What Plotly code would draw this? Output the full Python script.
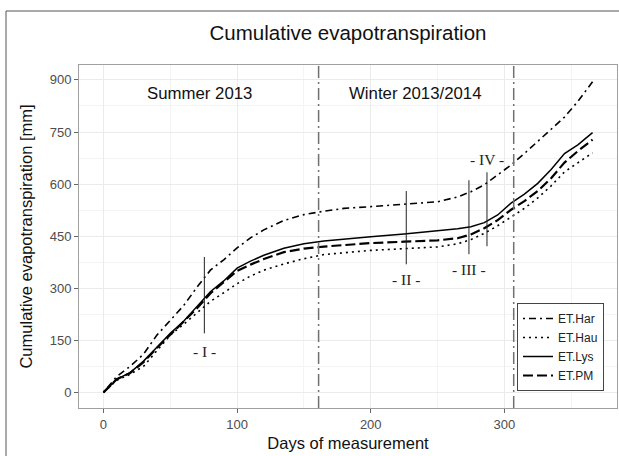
import plotly.graph_objects as go

# ---------------- data ----------------
days = [0, 5, 10, 20, 30, 40, 50, 60, 70, 80, 90, 100, 110, 120, 135, 150, 165,
        180, 200, 225, 250, 265, 275, 285, 295, 305, 315, 325, 335, 345, 355, 366]

et_har = [0, 22, 46, 75, 110, 165, 207, 250, 303, 352, 382, 416, 445, 468, 495, 512, 522,
          530, 535, 542, 549, 563, 578, 598, 627, 655, 688, 722, 758, 793, 838, 895]
et_hau = [0, 18, 35, 52, 75, 120, 165, 196, 228, 262, 287, 313, 335, 352, 370, 385, 397,
          403, 409, 414, 419, 428, 440, 458, 480, 505, 530, 560, 595, 635, 662, 690]
et_lys = [0, 20, 38, 57, 90, 130, 170, 205, 248, 290, 321, 358, 378, 395, 415, 428, 436,
          442, 448, 456, 465, 471, 477, 489, 511, 545, 571, 602, 642, 688, 713, 748]
et_pm = [0, 20, 38, 56, 87, 128, 166, 201, 242, 285, 317, 350, 368, 384, 404, 414, 420,
         425, 430, 434, 438, 444, 455, 473, 496, 526, 551, 580, 617, 662, 695, 728]

series_names = ["ET.Har", "ET.Hau", "ET.Lys", "ET.PM"]

season_bounds = [161, 307]
season_labels = ["Summer 2013", "Winter 2013/2014"]
season_label_days = [72, 233]
season_label_value = 862

marker_days = [75.5, 226.6, 273.5, 287]
marker_low = [170, 369, 398, 421]
marker_high = [390, 580, 611, 634]

phase_labels = ["- I -", "- II -", "- III -", "- IV -"]
phase_label_days = [75.5, 226.6, 273.5, 287]
phase_label_values = [118, 326, 355, 672]

x_ticks = [0, 100, 200, 300]
y_ticks = [0, 150, 300, 450, 600, 750, 900]

# ---------------- figure ----------------
fig = go.Figure()

styles = {
    "ET.Har": dict(width=1.6, dash="2px,4px,7px,4px"),
    "ET.Hau": dict(width=1.6, dash="2px,4px"),
    "ET.Lys": dict(width=1.5, dash="solid"),
    "ET.PM": dict(width=2.2, dash="10px,4px"),
}
for name, vals in zip(series_names, [et_har, et_hau, et_lys, et_pm]):
    fig.add_trace(go.Scatter(x=days, y=vals, mode="lines", name=name,
                             line=dict(color="black", **styles[name])))

# season boundary lines
for d in season_bounds:
    fig.add_shape(type="line", xref="x", yref="paper", x0=d, x1=d, y0=0, y1=1,
                  line=dict(color="#707070", width=1.5, dash="12px,4px,2px,4px"))

# phase marker lines
mx, my = [], []
for d, lo, hi in zip(marker_days, marker_low, marker_high):
    mx += [d, d, None]
    my += [lo, hi, None]
fig.add_trace(go.Scatter(x=mx, y=my, mode="lines", showlegend=False,
                         line=dict(color="#222222", width=1), hoverinfo="skip"))

for t, d in zip(season_labels, season_label_days):
    fig.add_annotation(x=d, y=season_label_value, text=t, showarrow=False,
                       font=dict(family="Liberation Sans, Arial", size=16.8, color="#111111"))

for t, d, v in zip(phase_labels, phase_label_days, phase_label_values):
    fig.add_annotation(x=d, y=v, text=t, showarrow=False,
                       font=dict(family="Liberation Serif, Times New Roman", size=15.5, color="#222222"))

# outer frame
fig.add_shape(type="rect", xref="paper", yref="paper",
              x0=(6 - 79) / 538, x1=1.2, y0=-0.3, y1=(408 - 11) / 343,
              line=dict(color="#555555", width=1), layer="below")

axis_common = dict(
    showline=True, mirror=True, linecolor="#a0a0a0", linewidth=1,
    showgrid=True, gridcolor="#ebebeb", gridwidth=1,
    ticks="outside", ticklen=4, tickcolor="#666666", tickwidth=1,
    tickfont=dict(family="Liberation Sans, Arial", size=13, color="#4d4d4d"),
    zeroline=False, automargin=False,
)

fig.update_xaxes(range=[-18.3, 384.3], tickvals=x_ticks,
                 minor=dict(dtick=50, tick0=0, showgrid=True, gridcolor="#f4f4f4", ticks=""),
                 title=dict(text="Days of measurement", standoff=6,
                            font=dict(family="Liberation Sans, Arial", size=16.5, color="#111111")),
                 **axis_common)
fig.update_yaxes(range=[-45, 943], tickvals=y_ticks,
                 minor=dict(dtick=75, tick0=0, showgrid=True, gridcolor="#f4f4f4", ticks=""),
                 title=dict(text="Cumulative evapotranspiration [mm]", standoff=12,
                            font=dict(family="Liberation Sans, Arial", size=16.5, color="#111111")),
                 **axis_common)

fig.update_layout(
    width=619, height=456,
    margin=dict(l=79, r=2, t=65, b=48, autoexpand=False),
    paper_bgcolor="white", plot_bgcolor="white",
    title=dict(text="Cumulative evapotranspiration", x=0.5, xref="paper",
               y=1 - 33 / 456, yref="container", yanchor="middle",
               font=dict(family="Liberation Sans, Arial", size=20.5, color="#111111")),
    legend=dict(x=(604 - 79) / 538, y=(408 - 303) / 343, xanchor="right", yanchor="top",
                bgcolor="white", bordercolor="#444444", borderwidth=1,
                font=dict(family="Liberation Sans, Arial", size=12, color="#222222"),
                itemwidth=30, tracegroupgap=0),
    showlegend=True,
)

fig.write_html("out.html", config={"displayModeBar": False},
               post_script="document.body.style.margin='0';document.body.style.overflow='hidden';")
